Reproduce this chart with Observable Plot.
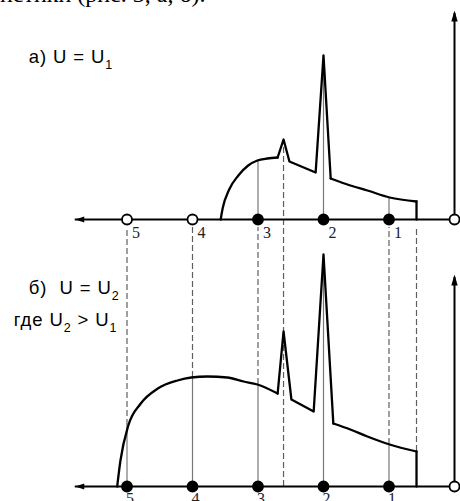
<!DOCTYPE html>
<html>
<head>
<meta charset="utf-8">
<script src="https://cdn.jsdelivr.net/npm/d3@7"></script>
<script src="https://cdn.jsdelivr.net/npm/@observablehq/plot@0.6"></script>
<style>
  html, body { margin: 0; padding: 0; background: #fff; }
  svg { display: block; }
</style>
</head>
<body>
<div id="chart"></div>
<script>
// Position along the axis: 0 = origin (right), points 1..5 go to the left.
const pointNumbers = [1, 2, 3, 4, 5];

// Signal level reached above each numbered point.
const levelsAtPointsU1 = [22, 164, 59, 0, 0];
const levelsAtPointsU2 = [42, 232, 102, 109, 61];

// Curve for U = U1: smooth rise, the two peaks, the decaying tail.
const u1Rise  = [[3.57, 0], [3.54, 11], [3.44, 30], [3.30, 44], [3.15, 54], [3.01, 59], [2.86, 61], [2.70, 62]];
const u1Peaks = [[2.70, 62], [2.61, 80], [2.52, 58], [2.12, 47], [2.00, 164], [1.89, 41]];
const u1Tail  = [[1.89, 41], [1.59, 34], [1.33, 29], [0.99, 22], [0.58, 18]];
const u1Drop  = [[0.58, 18], [0.58, 0]];

// Curve for U = U2.
const u2Rise  = [[5.15, 0], [5.10, 26], [4.98, 61], [4.79, 83], [4.53, 98], [4.23, 106], [4.02, 109],
                 [3.77, 110], [3.47, 109], [3.22, 105], [3.01, 102], [2.70, 93]];
const u2Peaks = [[2.70, 93], [2.61, 155], [2.49, 87], [2.15, 75], [2.00, 232], [1.85, 63]];
const u2Tail  = [[1.85, 63], [1.59, 57], [1.33, 50], [0.99, 42], [0.58, 35]];
const u2Drop  = [[0.58, 35], [0.58, 0]];

// Projection lines carried down to the U = U2 curve.
const guidePositions = [5, 4, 3, 1, 0.58];
const guideLevelsU2  = [61, 109, 102, 42, 35];
const smallPeakPos = 2.61, smallPeakLevelU1 = 80;

const TOP_BASE = 267, BOTTOM_BASE = 0;
const AXIS_END = 5.79;
const TOP_AXIS_HEIGHT = 209, BOTTOM_AXIS_HEIGHT = 212;

const labelA = "а) U = U_1";
const labelB = "б)  U = U_2";
const labelB2 = "где U_2 > U_1";
const bodyText = "характеристики (рис. 3, а, б).";

// Tables built from the arrays above
const pts = (arr, base) => arr.map(([x, y]) => ({x, y: base + y}));
const pointsU1 = pointNumbers.map((n, i) => ({n, x: n, base: TOP_BASE, level: levelsAtPointsU1[i]}));
const pointsU2 = pointNumbers.map((n, i) => ({n, x: n, base: BOTTOM_BASE, level: levelsAtPointsU2[i]}));
const allPoints = pointsU1.concat(pointsU2);
const guides = guidePositions.map((x, i) => ({x, level: guideLevelsU2[i]}));
const origins = [TOP_BASE, BOTTOM_BASE];
const axisTips = [
  {x: 0, y: TOP_BASE + TOP_AXIS_HEIGHT, base: TOP_BASE},
  {x: 0, y: BOTTOM_BASE + BOTTOM_AXIS_HEIGHT, base: BOTTOM_BASE}
];

// Narrow filled arrowhead, tip at the origin, pointing up.
const arrowHead = {
  draw(context) {
    context.moveTo(0, 0);
    context.lineTo(3.2, 11);
    context.lineTo(-3.2, 11);
    context.closePath();
  }
};
const arrowHeadSmall = {
  draw(context) {
    context.moveTo(0, 0);
    context.lineTo(3, 9);
    context.lineTo(-3, 9);
    context.closePath();
  }
};

const curveStyle = {x: "x", y: "y", stroke: "black", strokeWidth: 2.3, strokeLinejoin: "round"};
const sans = "Liberation Sans, Arial, sans-serif";
const serif = "Liberation Serif, Times New Roman, serif";

const chart = Plot.plot({
  width: 460,
  height: 501,
  margin: 0,
  x: {domain: [0, 5], range: [454, 126.5], axis: null},
  y: {domain: [-15, 486], range: [501, 0], axis: null},
  style: {background: "white"},
  marks: [
    // dashed projections between the two diagrams
    Plot.ruleX(guides, {x: "x", y1: d => BOTTOM_BASE + d.level, y2: TOP_BASE - 8,
      stroke: "#5f5f5f", strokeWidth: 1.2, strokeDasharray: "6,3"}),
    Plot.ruleX([smallPeakPos], {y1: BOTTOM_BASE, y2: TOP_BASE + smallPeakLevelU1 - 6,
      stroke: "#5f5f5f", strokeWidth: 1.2, strokeDasharray: "6,3"}),
    // thin verticals from each point up to the curve
    Plot.ruleX(allPoints.filter(d => d.level > 0), {x: "x", y1: "base", y2: d => d.base + d.level,
      stroke: "#777", strokeWidth: 1.2}),
    // curves
    Plot.line(pts(u1Rise, TOP_BASE), {...curveStyle, curve: "monotone-x"}),
    Plot.line(pts(u1Peaks, TOP_BASE), {...curveStyle, curve: "linear"}),
    Plot.line(pts(u1Tail, TOP_BASE), {...curveStyle, curve: "monotone-x"}),
    Plot.line(pts(u1Drop, TOP_BASE), {...curveStyle, curve: "linear"}),
    Plot.line(pts(u2Rise, BOTTOM_BASE), {...curveStyle, curve: "monotone-x"}),
    Plot.line(pts(u2Peaks, BOTTOM_BASE), {...curveStyle, curve: "linear"}),
    Plot.line(pts(u2Tail, BOTTOM_BASE), {...curveStyle, curve: "monotone-x"}),
    Plot.line(pts(u2Drop, BOTTOM_BASE), {...curveStyle, curve: "linear"}),
    // axes
    Plot.ruleY(origins, {x1: AXIS_END, x2: 0, stroke: "black", strokeWidth: 2}),
    Plot.ruleX(axisTips, {x: "x", y1: "base", y2: d => d.y - 3, stroke: "black", strokeWidth: 2}),
    Plot.dot(axisTips, {x: "x", y: "y", symbol: arrowHead, fill: "black", stroke: "none"}),
    Plot.dot(origins, {x: AXIS_END, y: d => d, symbol: arrowHeadSmall, rotate: -90, fill: "black", stroke: "none"}),
    // points
    Plot.dot(allPoints, {x: "x", y: "base", r: 5, fill: d => d.level > 0 ? "black" : "white",
      stroke: "black", strokeWidth: 1.8}),
    Plot.dot(origins, {x: 0, y: d => d, r: 5, fill: "white", stroke: "black", strokeWidth: 1.8}),
    // point numbers
    Plot.text(pointsU1, {x: "x", y: "base", text: d => String(d.n), textAnchor: "start", lineAnchor: "top",
      dx: 5, dy: 7, fontFamily: serif, fontSize: 16, fill: "#222"}),
    Plot.text(pointsU2, {x: "x", y: "base", text: d => String(d.n), textAnchor: "middle", lineAnchor: "top",
      dx: 3, dy: 6, fontFamily: serif, fontSize: 16, fill: "#222"}),
    // captions
    Plot.text([labelA], {x: 6.50, y: TOP_BASE + 157, text: d => d, textAnchor: "start", lineAnchor: "bottom",
      fontFamily: sans, fontSize: 18.5, fill: "black"}),
    Plot.text([labelB], {x: 6.50, y: BOTTOM_BASE + 193, text: d => d, textAnchor: "start", lineAnchor: "bottom",
      fontFamily: sans, fontSize: 18.5, fill: "black"}),
    Plot.text([labelB2], {x: 6.73, y: BOTTOM_BASE + 161, text: d => d, textAnchor: "start", lineAnchor: "bottom",
      fontFamily: sans, fontSize: 18.5, fill: "black"}),
    Plot.text([bodyText], {x: 3.80, y: 485, text: d => d, textAnchor: "end", lineAnchor: "bottom",
      fontFamily: serif, fontSize: 24, fill: "black"})
  ]
});

// Turn "U_1" into U with a lowered subscript digit.
d3.select(chart).selectAll("text").each(function () {
  const s = this.textContent;
  if (!s.includes("_")) return;
  const parts = s.split(/_(\d)/);
  const el = d3.select(this).attr("letter-spacing", 0.9);
  el.text(null);
  let lowered = false;
  parts.forEach((p, i) => {
    if (!p) return;
    const t = el.append("tspan").text(p);
    if (i % 2) {
      t.attr("dy", 6).attr("font-size", 12.5);
      lowered = true;
    } else if (lowered) {
      t.attr("dy", -6);
      lowered = false;
    }
  });
});

document.getElementById("chart").appendChild(chart);
</script>
</body>
</html>
